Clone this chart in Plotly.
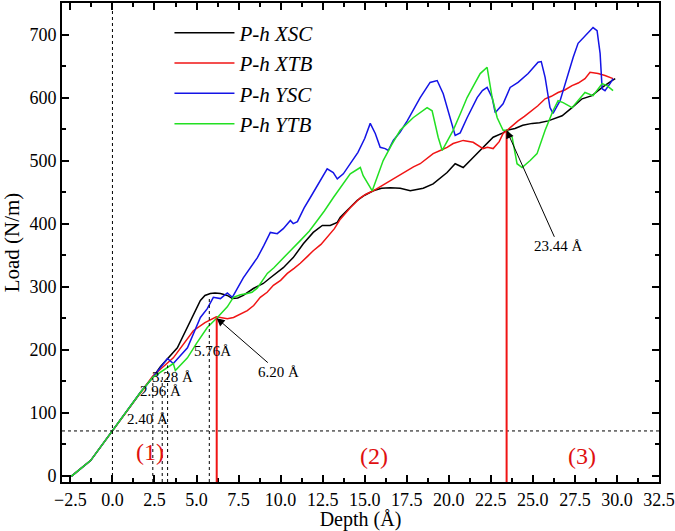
import plotly.graph_objects as go

# (depth Å, load N/m)
xsc_pts = [(-3.0, 0), (-2.4, 0), (-1.3, 24), (0, 71), (1.66, 132), (2.4, 156), (2.85, 173), (3.86, 203),
           (5.23, 278), (5.5, 286), (5.82, 289), (6.1, 290), (6.42, 289), (6.83, 286), (7.13, 281),
           (7.45, 282), (7.78, 286), (8.38, 297), (8.97, 305), (9.39, 314), (10.16, 330), (10.75, 346),
           (11.35, 368), (11.94, 386), (12.48, 397), (12.95, 397), (13.37, 402), (13.55, 410), (14.1, 425),
           (14.56, 437), (15.0, 445), (15.51, 452), (16.0, 456), (16.52, 457), (17.11, 456), (17.71, 452),
           (18.1, 454), (18.48, 456), (19.07, 463), (19.5, 472), (19.9, 481), (20.38, 495), (20.86, 489),
           (21.45, 505), (22.04, 521), (22.64, 537), (23.23, 544), (23.44, 548), (23.94, 551), (24.4, 556),
           (24.96, 559), (25.4, 560), (25.91, 563), (26.74, 571), (27.33, 584), (27.93, 598), (28.52, 603),
           (29.12, 616), (29.71, 627), (29.9, 630)]

xtb_pts = [(-3.0, 0), (-2.4, 0), (-1.3, 24), (0, 71), (1.66, 132), (2.4, 158), (2.9, 170), (3.62, 187),
           (4.81, 230), (5.5, 243), (6.18, 252), (6.5, 250), (6.83, 249), (7.2, 251), (7.61, 257),
           (8.02, 262), (8.4, 270), (8.79, 283), (9.2, 291), (9.57, 302), (10.0, 310), (10.4, 321),
           (10.8, 329), (11.17, 337), (11.6, 348), (11.94, 357), (12.4, 367), (12.77, 378), (13.2, 392),
           (13.55, 407), (14.14, 425), (14.74, 441), (15.1, 447), (15.51, 452), (16.0, 460), (16.52, 468),
           (17.0, 475), (17.53, 484), (17.9, 490), (18.3, 495), (18.7, 503), (19.07, 511), (19.49, 516),
           (19.9, 521), (20.26, 527), (20.86, 532), (21.45, 529), (22.04, 519), (22.3, 521), (22.64, 519),
           (23.0, 530), (23.23, 543), (23.47, 548), (24.12, 563), (24.5, 570), (24.96, 579), (25.3, 587),
           (25.73, 598), (26.1, 602), (26.5, 608), (26.9, 612), (27.33, 619), (27.7, 623), (28.1, 630),
           (28.4, 640), (28.88, 638), (29.29, 635), (29.77, 630)]

ysc_pts = [(-3.0, 0), (-2.4, 0), (-1.3, 24), (0, 71), (1.66, 132), (2.4, 156), (2.85, 172), (3.27, 186),
           (3.62, 178), (4.46, 203), (5.23, 251), (5.64, 265), (6.0, 283), (6.42, 281), (6.83, 290),
           (7.13, 283), (7.78, 314), (8.2, 330), (8.62, 346), (9.0, 365), (9.39, 386), (9.8, 384),
           (10.16, 392), (10.58, 405), (10.75, 400), (11.0, 403), (11.4, 425), (11.76, 441), (12.36, 468),
           (12.77, 487), (13.13, 481), (13.37, 471), (13.73, 479), (14.14, 495), (14.6, 513), (15.0, 535),
           (15.33, 559), (15.63, 543), (15.92, 521), (16.22, 519), (16.4, 516), (16.7, 532), (17.1, 545),
           (17.53, 563), (17.9, 581), (18.3, 600), (18.89, 624), (19.31, 627), (19.67, 606), (20.08, 568),
           (20.38, 540), (20.68, 544), (21.09, 568), (21.69, 600), (22.0, 611), (22.28, 616), (22.58, 600),
           (22.76, 576), (23.23, 590), (23.65, 616), (24.12, 624), (24.72, 638), (25.31, 656), (25.5, 657),
           (25.73, 632), (26.02, 584), (26.2, 575), (26.62, 595), (27.09, 638), (27.4, 664), (27.69, 686),
           (28.28, 703), (28.58, 711), (28.82, 706), (29.0, 670), (29.12, 614), (29.29, 611), (29.59, 622),
           (29.77, 630)]

ytb_pts = [(-3.0, 0), (-2.4, 0), (-1.3, 24), (0, 71), (1.66, 132), (2.4, 156), (2.9, 165), (3.4, 175),
           (3.62, 178), (3.74, 167), (4.46, 187), (5.0, 210), (5.64, 235), (6.24, 251), (6.83, 268),
           (7.19, 283), (7.61, 287), (8.02, 289), (8.3, 291), (8.62, 298), (9.21, 321), (9.6, 330),
           (9.98, 341), (10.58, 357), (11.17, 373), (11.7, 388), (12.18, 405), (12.6, 420), (13.13, 441),
           (13.73, 463), (14.14, 479), (14.74, 489), (14.91, 476), (15.45, 452), (15.8, 477), (16.1, 500),
           (16.6, 525), (17.11, 548), (17.88, 568), (18.3, 576), (18.71, 584), (19.01, 579), (19.37, 537),
           (19.61, 516), (20.26, 548), (20.7, 575), (21.09, 600), (21.5, 620), (21.87, 638), (22.28, 648),
           (22.58, 600), (22.88, 568), (23.23, 548), (23.44, 548), (23.77, 537), (24.06, 495), (24.36, 489),
           (24.84, 500), (25.25, 511), (25.73, 548), (26.2, 579), (26.5, 595), (26.8, 592), (27.33, 584),
           (27.7, 595), (28.1, 608), (28.58, 603), (29.12, 622), (29.41, 619), (29.77, 611)]

# marked depths
dash_depths = [2.40, 2.96, 3.28, 5.76]
dash_tops = [155, 160, 175, 285]
red_depths = [6.20, 23.44]
red_tops = [250, 548]
h_load = 71

FONT = "Liberation Serif"


def add_curve(fig, pts, name, color):
    fig.add_trace(go.Scatter(x=[p[0] for p in pts], y=[p[1] for p in pts], mode="lines",
                             name=name, line=dict(color=color, width=1.5)))


fig = go.Figure()
add_curve(fig, xsc_pts, "<i>P-h XSC</i>", "black")
add_curve(fig, xtb_pts, "<i>P-h XTB</i>", "#f01414")
add_curve(fig, ysc_pts, "<i>P-h YSC</i>", "#1414e6")
add_curve(fig, ytb_pts, "<i>P-h YTB</i>", "#22e022")

# dashed guides
fig.add_shape(type="line", x0=0, x1=0, y0=-10, y1=750,
              line=dict(color="black", width=1, dash="3px,3px"))
fig.add_shape(type="line", x0=-3, x1=32.5, y0=h_load, y1=h_load,
              line=dict(color="black", width=1, dash="3px,3px"))
for d, t in zip(dash_depths, dash_tops):
    fig.add_shape(type="line", x0=d, x1=d, y0=-10, y1=t,
                  line=dict(color="black", width=1, dash="3px,3px"))
for d, t in zip(red_depths, red_tops):
    fig.add_shape(type="line", x0=d, x1=d, y0=-10, y1=t,
                  line=dict(color="#f01414", width=2))

# labels
lab = dict(family=FONT, size=15, color="black")
fig.add_annotation(x=2.08, y=90, text="2.40 Å", showarrow=False, font=lab)
fig.add_annotation(x=2.85, y=135, text="2.96 Å", showarrow=False, font=lab)
fig.add_annotation(x=3.57, y=157, text="3.28 Å", showarrow=False, font=lab)
fig.add_annotation(x=5.94, y=198, text="5.76Å", showarrow=False, font=lab)
fig.add_annotation(x=6.20, y=250, text="6.20 Å", showarrow=True, ax=62, ay=54,
                   arrowhead=2, arrowsize=1.6, arrowwidth=1, arrowcolor="black", font=lab)
fig.add_annotation(x=23.44, y=548, text="23.44 Å", showarrow=True, ax=52, ay=116,
                   arrowhead=2, arrowsize=1.6, arrowwidth=1, arrowcolor="black", font=lab)

reg = dict(family=FONT, size=24, color="#e01010")
fig.add_annotation(x=2.26, y=38, text="(1)", showarrow=False, font=reg)
fig.add_annotation(x=15.57, y=32, text="(2)", showarrow=False, font=reg)
fig.add_annotation(x=27.93, y=32, text="(3)", showarrow=False, font=reg)

axis = dict(showgrid=False, zeroline=False, showline=True, linecolor="black", linewidth=2,
            mirror="ticks", ticks="inside", ticklen=7, tickwidth=1.5, tickcolor="black",
            automargin=False, tickfont=dict(family=FONT, size=18, color="black"))

fig.update_layout(
    width=675, height=531,
    margin=dict(l=62, r=16, t=3, b=49),
    plot_bgcolor="white", paper_bgcolor="white",
    xaxis=dict(axis, range=[-3, 32.502], tick0=-2.5, dtick=2.5, tickformat=".1f",
               minor=dict(ticks="inside", ticklen=4, tickcolor="black", dtick=1.25),
               title=dict(text="Depth (Å)", font=dict(family=FONT, size=20, color="black"), standoff=1)),
    yaxis=dict(axis, range=[-10, 750], tick0=0, dtick=100,
               minor=dict(ticks="inside", ticklen=4, tickcolor="black", dtick=50),
               title=dict(text="Load (N/m)", font=dict(family=FONT, size=21, color="black"), standoff=4)),
    legend=dict(x=0.18, y=0.98, xanchor="left", yanchor="top", bgcolor="rgba(0,0,0,0)",
                font=dict(family=FONT, size=21, color="black"), itemwidth=60, tracegroupgap=0),
)

# page body has a default margin; drop it so the figure sits at the window corner
fig.write_html("out.html", config={"displayModeBar": False},
               post_script="document.body.style.margin='0';")
